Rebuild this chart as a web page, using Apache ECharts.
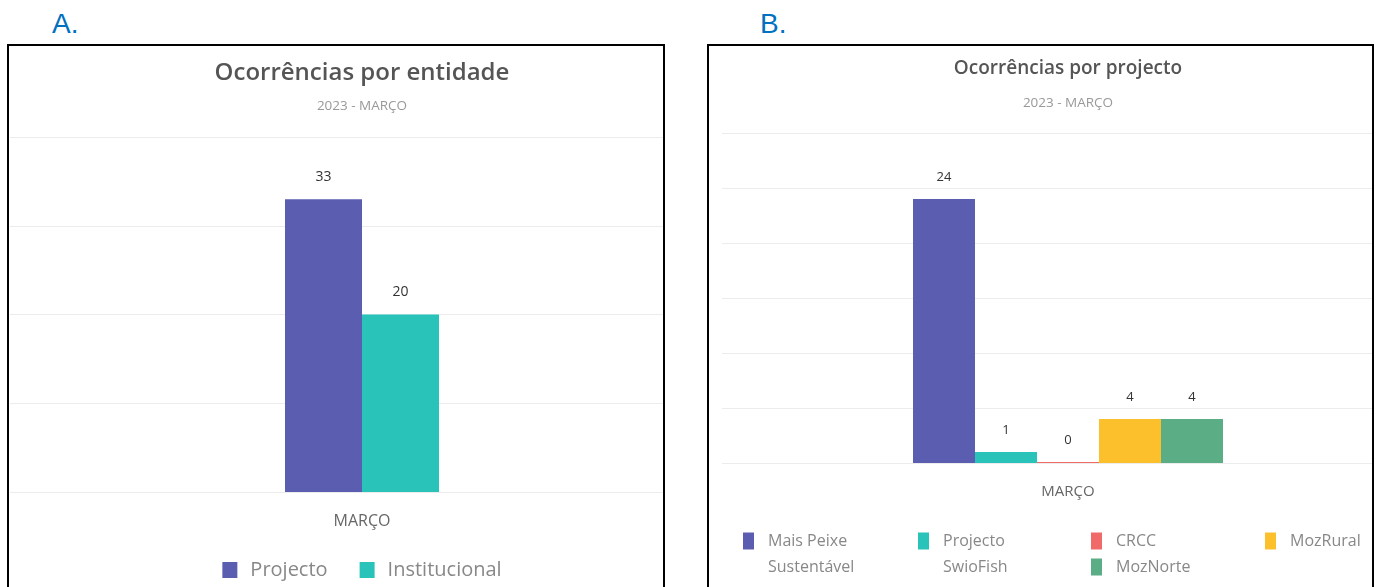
<!DOCTYPE html>
<html>
<head>
<meta charset="utf-8">
<script src="https://cdn.jsdelivr.net/npm/echarts@6/dist/echarts.min.js"></script>
<style>
  html, body { margin: 0; padding: 0; background: #fff; overflow: hidden; width: 1381px; height: 587px; }
  .tag { position: absolute; font-family: 'Liberation Sans', Arial, sans-serif; font-size: 28px; color: #0070c0; line-height: 1; }
  .panel { position: absolute; border: 2px solid #000; overflow: hidden; background: #fff; }
  .chart { position: absolute; left: 0; top: 0; height: 560px; }
</style>
</head>
<body>
<div class="tag" style="left:52px; top:10px;">A.</div>
<div class="tag" style="left:760px; top:10px;">B.</div>
<div class="panel" style="left:7px; top:44px; width:654px; height:600px;">
  <div id="chartA" class="chart" style="width:706px;"></div>
</div>
<div class="panel" style="left:707px; top:44px; width:663px; height:600px;">
  <div id="chartB" class="chart" style="width:718px;"></div>
</div>
<script>
// chart data
const months = ['MARÇO'];
const entidadeNames = ['Projecto', 'Institucional'];
const entidadeValues = [33, 20];
const projectoNames = ['Mais Peixe Sustentável', 'Projecto SwioFish', 'CRCC', 'MozRural', 'MozNorte'];
const projectoValues = [24, 1, 0, 4, 4];

const entidadeColors = ['#5b5eb0', '#29c3b9'];
const projectoColors = ['#5b5eb0', '#29c3b9', '#f06a6a', '#fcc02c', '#5aad84'];

const font = "'Open Sans', 'Noto Sans', sans-serif";

function initChart(domId, options) {
  const chart = echarts.init(document.getElementById(domId), null, { renderer: 'canvas' });
  chart.setOption(options);
  return chart;
}

// Ocorrências por entidade
const entidadeOptions = {
  animation: false,
  textStyle: { fontFamily: font },
  title: [
    { text: 'Ocorrências por entidade', left: 'center', top: 10,
      textStyle: { fontFamily: font, fontSize: 24, fontWeight: 600, color: '#555' } },
    { text: '2023 - MARÇO', left: 'center', top: 48,
      textStyle: { fontFamily: font, fontSize: 13.5, fontWeight: 'normal', color: '#999' } }
  ],
  legend: {
    left: 'center',
    top: 514,
    padding: 0,
    itemWidth: 15,
    itemHeight: 16,
    itemGap: 32,
    icon: 'rect',
    data: entidadeNames,
    textStyle: { fontFamily: font, fontSize: 20, color: '#888', padding: [0, 0, 0, 8] }
  },
  grid: { left: 1, right: 1, top: 91, bottom: 114 },
  xAxis: {
    type: 'category',
    data: months,
    axisLine: { show: false },
    axisTick: { show: false },
    axisLabel: { margin: 21, fontSize: 16, color: '#666', fontFamily: font }
  },
  yAxis: {
    type: 'value',
    min: 0,
    max: 40,
    interval: 10,
    axisLabel: { show: false },
    axisLine: { show: false },
    axisTick: { show: false },
    splitLine: { lineStyle: { color: '#ececec', width: 1 } }
  },
  series: entidadeNames.map((name, i) => ({
    name: name,
    type: 'bar',
    barWidth: 77,
    barGap: '0%',
    itemStyle: { color: entidadeColors[i] },
    label: { show: true, position: 'top', distance: 15, fontSize: 14, color: '#333', fontFamily: font },
    data: [entidadeValues[i]]
  }))
};

// Ocorrências por projecto: one legend per item so they sit where the original has them
const legendSpots = [
  { left: 34, top: 456, twoLines: true },
  { left: 209, top: 456, twoLines: true },
  { left: 382, top: 482, twoLines: false },
  { left: 556, top: 482, twoLines: false },
  { left: 382, top: 508, twoLines: false }
];

const projectoLegends = projectoNames.map((name, i) => {
  const spot = legendSpots[i];
  return {
    left: spot.left,
    top: spot.top,
    padding: 0,
    icon: 'rect',
    itemWidth: 11,
    itemHeight: 17,
    data: [name],
    formatter: (n) => {
      const k = n.lastIndexOf(' ');
      // blank first line keeps the icon level with the first text line
      return spot.twoLines ? ' \n' + n.slice(0, k) + '\n' + n.slice(k + 1) : n;
    },
    textStyle: {
      fontFamily: font, fontSize: 16, color: '#888', lineHeight: 26,
      padding: [0, 0, 0, 9]
    }
  };
});

const projectoOptions = {
  animation: false,
  textStyle: { fontFamily: font },
  title: [
    { text: 'Ocorrências por projecto', left: 'center', top: 8,
      textStyle: { fontFamily: font, fontSize: 19, fontWeight: 600, color: '#555' } },
    { text: '2023 - MARÇO', left: 'center', top: 45,
      textStyle: { fontFamily: font, fontSize: 13.5, fontWeight: 'normal', color: '#999' } }
  ],
  legend: projectoLegends,
  grid: { left: 13, right: 13, top: 87, bottom: 143 },
  xAxis: {
    type: 'category',
    data: months,
    axisLine: { show: false },
    axisTick: { show: false },
    axisLabel: { margin: 21, fontSize: 15, color: '#666', fontFamily: font }
  },
  yAxis: {
    type: 'value',
    min: 0,
    max: 30,
    interval: 5,
    axisLabel: { show: false },
    axisLine: { show: false },
    axisTick: { show: false },
    splitLine: { lineStyle: { color: '#ececec', width: 1 } }
  },
  series: projectoNames.map((name, i) => ({
    name: name,
    type: 'bar',
    barWidth: 62,
    barGap: '0%',
    barMinHeight: 1,
    itemStyle: { color: projectoColors[i] },
    label: { show: true, position: 'top', distance: 15, fontSize: 13, color: '#333', fontFamily: font },
    data: [projectoValues[i]]
  }))
};

initChart('chartA', entidadeOptions);
initChart('chartB', projectoOptions);
</script>
</body>
</html>
